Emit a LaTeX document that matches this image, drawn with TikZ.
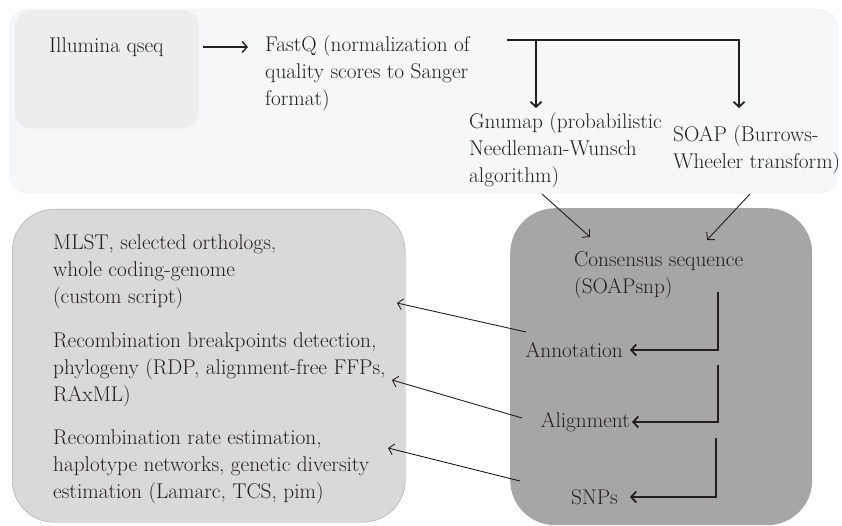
\documentclass[tikz,border=0pt]{standalone}
\usetikzlibrary{arrows.meta}

\definecolor{ink}{HTML}{231F20}
\definecolor{panelfill}{HTML}{F6F7F9}
\definecolor{paneledge}{HTML}{ECEEF0}
\definecolor{seqfill}{HTML}{ECEDED}
\definecolor{lightfill}{HTML}{D9D9D9}
\definecolor{lightedge}{HTML}{A3A3A3}
\definecolor{darkfill}{HTML}{A6A6A6}

\tikzset{panel/.style={draw=paneledge,fill=panelfill,rounded corners=20pt,anchor=north west,inner sep=0pt}}
\tikzset{seqbox/.style={fill=seqfill,rounded corners=17pt,anchor=north west,inner sep=0pt}}
\tikzset{txt/.style={inner sep=0pt,align=left,anchor=west,text=ink,font=\fontsize{21.3}{27}\selectfont}}
\tikzset{arr/.style={draw=ink,line width=0.9pt,-{Straight Barb[length=5pt,width=11pt]}}}
\tikzset{elbow/.style={arr,line width=1.8pt}}

\begin{document}
\begin{tikzpicture}[x=1pt,y=-1pt]
  \useasboundingbox (0,0) rectangle (842,526);
  % boxes
  \node [panel,minimum width=829pt,minimum height=184pt] (top) at (9,9) {};
  \node [seqbox,minimum width=184pt,minimum height=118pt] (illu) at (15,10) {};
  \node [panel,draw=lightedge,fill=lightfill,rounded corners=42pt,minimum width=393pt,minimum height=313pt] (lbox) at (12,209) {};
  \node [panel,draw=none,fill=darkfill,rounded corners=45pt,minimum width=302pt,minimum height=317pt] (dbox) at (510,208) {};

  % texts
  \node [txt] (illut) at (49,47) {Illumina qseq};
  \node [txt] (fastq) at (265,73) {FastQ (normalization of\\quality scores to Sanger\\format)};
  \node [txt] (gnumap) at (469,150) {Gnumap (probabilistic\\Needleman-Wunsch\\algorithm)};
  \node [txt] (soap) at (673,150) {SOAP (Burrows-\\Wheeler transform)};
  \node [txt] (cons) at (574,275) {Consensus sequence\\(SOAPsnp)};
  \node [txt,anchor=east] (annot) at (623,350) {Annotation};
  \node [txt,anchor=east] (align) at (630,422) {Alignment};
  \node [txt,anchor=east] (snps) at (618,497) {SNPs};
  \node [txt] (mlst) at (53,272) {MLST, selected orthologs,\\whole coding-genome\\(custom script)};
  \node [txt] (recomb) at (53,370) {Recombination breakpoints detection,\\phylogeny (RDP, alignment-free FFPs,\\RAxML)};
  \node [txt] (rate) at (53,467) {Recombination rate estimation,\\haplotype networks, genetic diversity\\estimation (Lamarc, TCS, pim)};

  % top flow
  \draw [arr,line width=1.4pt,shorten <=4pt,shorten >=17pt] (illu.east |- illut.east) -- (fastq.west |- illut.east);
  \coordinate (fork) at (507,40);
  \coordinate (gtip) at (536,108);
  \coordinate (stip) at (739,108);
  \draw [elbow] (fork) -| (gtip);
  \draw [elbow] (fork) -| (stip);
  \draw [arr] (542,194) -- (590,237);
  \draw [arr] (750,194) -- (707,240);

  % consensus steps
  \coordinate (e1) at (718,292);
  \coordinate (e2) at (718,365);
  \coordinate (e3) at (716,438);
  \draw [elbow] (e1) |- ([xshift=7pt]annot.east);
  \draw [elbow] (e2) |- ([xshift=2pt]align.east);
  \draw [elbow] (e3) |- ([xshift=12pt]snps.east);

  % to the analyses
  \coordinate (s1) at (526,332);
  \coordinate (s2) at (522,418);
  \coordinate (s3) at (520,481);
  \draw [arr] (s1) -- (397,303);
  \draw [arr] (s2) -- (392,380);
  \draw [arr] (s3) -- (388,448);
\end{tikzpicture}
\end{document}
